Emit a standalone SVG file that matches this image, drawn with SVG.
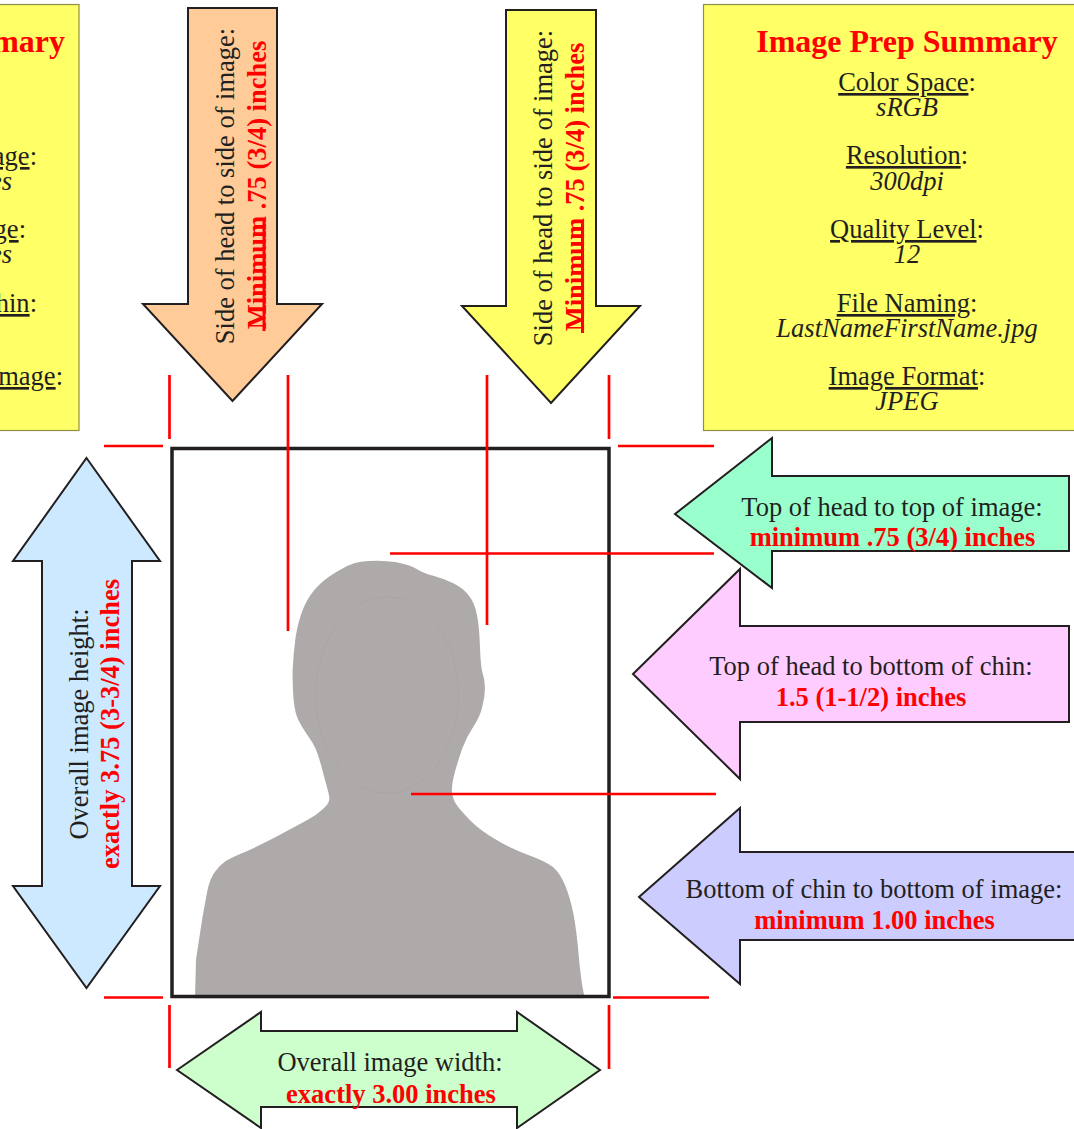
<svg xmlns="http://www.w3.org/2000/svg" width="1074" height="1129" viewBox="0 0 1074 1129">
<style>
text{font-family:"Liberation Serif","Times New Roman",serif;font-size:26.500px;fill:#231f20;text-anchor:middle}
.r{fill:#f00;font-weight:bold}
.i{font-style:italic}
.u{text-decoration:underline}
.e{text-anchor:end}
.t{fill:#f00;font-weight:bold;font-size:32px}
.a{stroke:#231f20;stroke-width:2;stroke-linejoin:miter}
.box{fill:#ff6;stroke:#8f8f45;stroke-width:1.2}
.red{stroke:#f00;stroke-width:2.700;fill:none}
</style>
<rect width="1074" height="1129" fill="#fff"/>
<g id="summary-left">
<rect class="box" x="-20" y="4.500" width="99" height="426"/>
<text class="t e" x="65" y="52">mary</text>
<text class="e" x="37" y="165"><tspan class="u">age</tspan>:</text>
<text class="i e" x="12" y="190">es</text>
<text class="e" x="26" y="238"><tspan class="u">ge</tspan>:</text>
<text class="i e" x="12" y="263">es</text>
<text class="e" x="37" y="312"><tspan class="u">hin</tspan>:</text>
<text class="e" x="63" y="385"><tspan class="u">mage</tspan>:</text>
</g>
<g id="summary-right">
<rect class="box" x="703.500" y="4.500" width="390" height="426"/>
<text class="t" x="907" y="52">Image Prep Summary</text>
<text x="907" y="91"><tspan class="u">Color Space</tspan>:</text>
<text class="i" x="907" y="116">sRGB</text>
<text x="907" y="164"><tspan class="u">Resolution</tspan>:</text>
<text class="i" x="907" y="190">300dpi</text>
<text x="907" y="238"><tspan class="u">Quality Level</tspan>:</text>
<text class="i" x="907" y="263">12</text>
<text x="907" y="312"><tspan class="u">File Naming</tspan>:</text>
<text class="i" x="907" y="337">LastNameFirstName.jpg</text>
<text x="907" y="385"><tspan class="u">Image Format</tspan>:</text>
<text class="i" x="907" y="410">JPEG</text>
</g>
<g id="photo">
<path fill="#aeaaaa" transform="translate(170 520) scale(.3333)" d="M75,1435 L78,1320 Q78,1320 84,1280 Q90,1240 97,1195 Q105,1150 112,1112 Q120,1075 135,1055 Q150,1035 167,1023 Q185,1012 212,1001 Q240,990 280,970 Q320,950 352,932 Q385,915 412,900 Q440,885 459,867 Q478,850 478,837 Q478,825 471,802 Q465,780 455,742 Q445,705 437,687 Q430,670 412,645 Q395,620 385,600 Q375,580 371,540 Q367,500 368,450 Q370,400 377,350 Q385,300 402,260 Q420,220 450,192 Q480,165 515,147 Q550,125 595,123 Q640,120 680,127 Q720,135 740,147 Q760,160 790,167 Q820,175 850,190 Q880,205 897,227 Q915,250 921,285 Q928,320 930,380 Q932,440 938,460 Q945,480 945,505 Q945,530 937,560 Q930,590 910,620 Q890,650 877,685 Q865,720 855,755 Q845,790 846,815 Q848,840 864,860 Q880,880 905,905 Q930,930 975,957 Q1020,985 1075,1005 Q1130,1025 1150,1042 Q1170,1060 1185,1095 Q1200,1130 1210,1180 Q1220,1230 1227,1315 Q1235,1400 1245,1435 Z"/>
<ellipse cx="387" cy="695" rx="71.500" ry="98" fill="none" stroke="#a3a0a0" stroke-width=".5"/>
<rect x="172" y="448.500" width="437" height="548" fill="none" stroke="#231f20" stroke-width="3.500"/>
</g>
<g id="arrow-side-left">
<polygon class="a" fill="#fc9" points="188,8 277,8 277,304 322,304 232.500,401 143,304 188,304"/>
<g transform="translate(233.500 186) rotate(-90)"><text x="0" y="0">Side of head to side of image:</text><text class="r" x="1" y="32">Minimum .75 (3/4) inches</text><line x1="-145" y1="30.500" x2="-32" y2="30.500" stroke="#f00" stroke-width="3"/></g>
</g>
<g id="arrow-side-right">
<polygon class="a" fill="#ff6" points="506,10 596,10 596,306 640,306 551,403 462,306 506,306"/>
<g transform="translate(552 188) rotate(-90)"><text x="0" y="0">Side of head to side of image:</text><text class="r" x="1" y="32">Minimum .75 (3/4) inches</text><line x1="-145" y1="30.500" x2="-32" y2="30.500" stroke="#f00" stroke-width="3"/></g>
</g>
<g id="arrow-top">
<polygon class="a" fill="#9fc" points="675,514 772,438 772,476 1069,476 1069,551 772,551 772,588"/>
<text x="892" y="516">Top of head to top of image:</text>
<text class="r" x="892.500" y="546">minimum .75 (3/4) inches</text>
</g>
<g id="arrow-head">
<polygon class="a" fill="#fcf" points="633,674 740,569 740,626 1069,626 1069,722 740,722 740,779"/>
<text x="871" y="675">Top of head to bottom of chin:</text>
<text class="r" x="871" y="706">1.5 (1-1/2) inches</text>
</g>
<g id="arrow-chin">
<polygon class="a" fill="#ccf" points="639,897 740,808 740,852 1076,852 1076,940 740,940 740,984"/>
<text x="874" y="898">Bottom of chin to bottom of image:</text>
<text class="r" x="874.500" y="929">minimum 1.00 inches</text>
</g>
<g id="arrow-height">
<polygon class="a" fill="#cce9ff" points="86.500,458 160,561 132,561 132,886 160,886 86.500,988 13,886 42,886 42,561 13,561"/>
<g transform="translate(88 724) rotate(-90)"><text x="0" y="0">Overall image height:</text><text class="r" x="0" y="30.500">exactly 3.75 (3-3/4) inches</text></g>
</g>
<g id="arrow-width">
<polygon class="a" fill="#cfc" points="177,1070 261,1012 261,1031 517,1031 517,1012 600,1070 517,1128 517,1107 261,1107 261,1128"/>
<text x="390" y="1071">Overall image width:</text>
<text class="r" x="391" y="1103">exactly 3.00 inches</text>
</g>
<g id="connectors" class="red">
<path d="M169.500 375V439M288 375V631M487 375V625M609 375V439M104 446H163M618 446H714M390 553.500H714M411 794H716M104 997.500H163M613 997.500H709M169.500 1005V1068M609 1005V1069"/>
</g>
</svg>
